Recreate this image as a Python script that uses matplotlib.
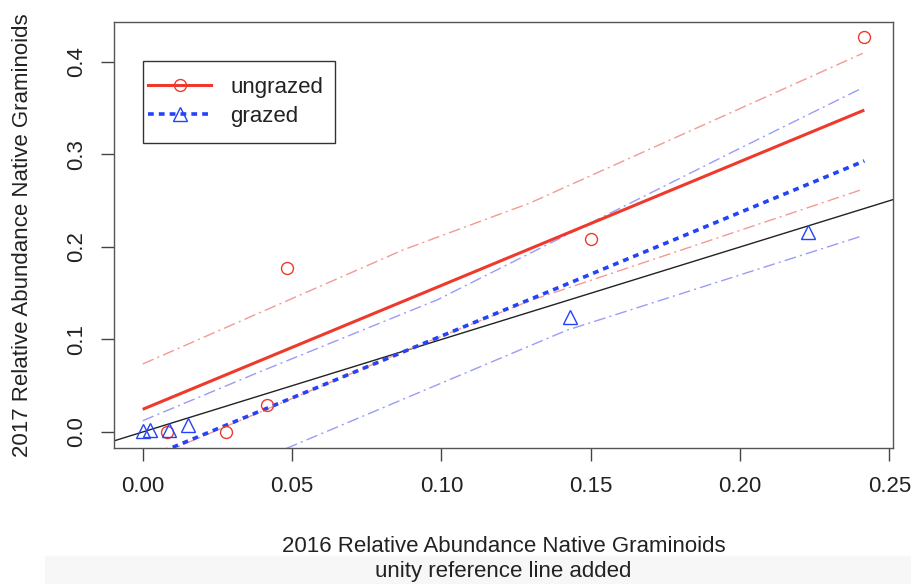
import matplotlib
matplotlib.use("Agg")
import matplotlib.pyplot as plt
from matplotlib.lines import Line2D
from matplotlib.patches import Rectangle

plt.rcParams["font.family"] = ["Liberation Sans", "DejaVu Sans"]

# observed points (2016 vs 2017 relative abundance)
ungrazed_x = [0.0081, 0.028, 0.0416, 0.0482, 0.150, 0.2416]
ungrazed_y = [0.000, 0.000, 0.029, 0.177, 0.209, 0.427]
grazed_x = [0.0, 0.0024, 0.0087, 0.0152, 0.1429, 0.2229]
grazed_y = [0.0015, 0.0021, 0.0018, 0.0078, 0.1246, 0.2165]

# fitted lines
fit_x = [0.0, 0.2416]
ungrazed_fit = [0.0245, 0.348]
grazed_fit = [-0.030, 0.293]

# confidence bands
ung_up_x = [0.0, 0.0873, 0.1297, 0.2411]
ung_up = [0.0735, 0.197, 0.2476, 0.4094]
ung_lo_x = [0.0, 0.0873, 0.1297, 0.2411]
ung_lo = [-0.032, 0.087, 0.142, 0.2624]
gra_up_x = [0.0, 0.0393, 0.0985, 0.1397, 0.1989, 0.2411]
gra_up = [0.0122, 0.0652, 0.1427, 0.2094, 0.305, 0.3722]
gra_lo_x = [0.0, 0.0494, 0.142, 0.2408]
gra_lo = [-0.083, -0.016, 0.110, 0.2119]

x_ticks = [0.00, 0.05, 0.10, 0.15, 0.20, 0.25]
x_ticklabels = ["0.00", "0.05", "0.10", "0.15", "0.20", "0.25"]
y_ticks = [0.0, 0.1, 0.2, 0.3, 0.4]
y_ticklabels = ["0.0", "0.1", "0.2", "0.3", "0.4"]

RED = "#ee3a2c"
BLUE = "#2444f8"
RED_BAND = "#f29a96"
BLUE_BAND = "#9a9cf6"
DOTDASH = (0, (8.5, 3.0, 1.5, 3.0))

W, H = 912, 584
fig = plt.figure(figsize=(W / 100, H / 100), dpi=100)
fig.add_artist(Rectangle((45 / W, 0), 1, 28 / H, transform=fig.transFigure,
                         color="#f7f7f7", zorder=-1))
ax = fig.add_axes([114 / W, 1 - 448 / H, (893 - 114) / W, (448 - 22) / H])

# unity reference line
ax.axline((0, 0), slope=1, color="#222222", lw=1.0, zorder=2)

ax.plot(ung_up_x, ung_up, color=RED_BAND, lw=1.0, ls=DOTDASH)
ax.plot(ung_lo_x, ung_lo, color=RED_BAND, lw=1.0, ls=DOTDASH)
ax.plot(gra_up_x, gra_up, color=BLUE_BAND, lw=1.0, ls=DOTDASH)
ax.plot(gra_lo_x, gra_lo, color=BLUE_BAND, lw=1.0, ls=DOTDASH)

ax.plot(fit_x, ungrazed_fit, color=RED, lw=2.2, solid_capstyle="butt", zorder=3)
ax.plot(fit_x, grazed_fit, color=BLUE, lw=2.6, ls=(0, (1.6, 1.4)), zorder=3)

ax.plot(ungrazed_x, ungrazed_y, ls="none", marker="o", ms=8.6, mfc="none",
        mec=RED, mew=1.0, zorder=4)
ax.plot(grazed_x, grazed_y, ls="none", marker="^", ms=10, mfc="none",
        mec=BLUE, mew=1.0, zorder=4)

ax.set_xlim(-0.0096, 0.2512)
ax.set_ylim(-0.0173, 0.4432)
ax.set_xticks(x_ticks, x_ticklabels)
ax.set_yticks(y_ticks, y_ticklabels)
ax.tick_params(axis="both", direction="out", length=9.5, width=1.0,
               color="#444444", labelsize=16, labelcolor="#222222")
ax.tick_params(axis="x", pad=11)
ax.tick_params(axis="y", pad=10)
for lab in ax.get_yticklabels():
    lab.set_rotation(90)
    lab.set_va("center")
for sp in ax.spines.values():
    sp.set_color("#555555")
    sp.set_linewidth(1.0)

# legend: entries without frame, box drawn separately (R style padding)
handles = [
    Line2D([], [], color=RED, lw=2.2, marker="o", ms=8.6, mfc="none", mec=RED, mew=1.0),
    Line2D([], [], color=BLUE, lw=2.6, ls=(0, (1.6, 1.4)), marker="^", ms=10,
           mfc="none", mec=BLUE, mew=1.0),
]
leg = ax.legend(handles, ["ungrazed", "grazed"], loc="center left",
                bbox_to_anchor=(0.0436, 0.8122), borderaxespad=0, borderpad=0,
                labelspacing=0.38, handlelength=2.85, handletextpad=0.85,
                numpoints=1, fontsize=16, frameon=False)
for t in leg.get_texts():
    t.set_color("#222222")
ax.add_patch(Rectangle((0.0372, 0.716), 0.2465, 0.1925, transform=ax.transAxes,
                       fill=False, edgecolor="#333333", lw=1.0, zorder=5))

fig.text(23 / W, 1 - 235 / H, "2017 Relative Abundance Native Graminoids",
         rotation=90, ha="center", va="center", fontsize=16, color="#222222")
fig.text(503.5 / W, 1 - 546 / H, "2016 Relative Abundance Native Graminoids",
         ha="center", va="center", fontsize=16, color="#222222")
fig.text(503.5 / W, 1 - 572 / H, "unity reference line added",
         ha="center", va="center", fontsize=16, color="#222222")

fig.savefig("out.png", dpi=100)
